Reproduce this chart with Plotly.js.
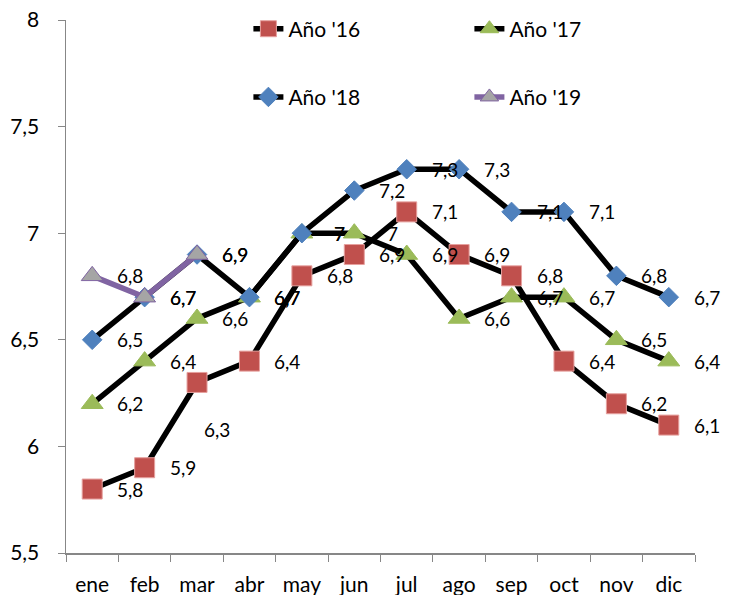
<!DOCTYPE html>
<html>
<head>
<meta charset="utf-8">
<script src="https://cdn.plot.ly/plotly-3.0.1.min.js"></script>
<style>html,body{margin:0;padding:0;background:#fff}#chart{width:736px;height:595px}</style>
</head>
<body>
<div id="chart"></div>
<script>
const months = ['ene','feb','mar','abr','may','jun','jul','ago','sep','oct','nov','dic'];
const y16 = [5.8, 5.9, 6.3, 6.4, 6.8, 6.9, 7.1, 6.9, 6.8, 6.4, 6.2, 6.1];
const y17 = [6.2, 6.4, 6.6, 6.7, 7.0, 7.0, 6.9, 6.6, 6.7, 6.7, 6.5, 6.4];
const y18 = [6.5, 6.7, 6.9, 6.7, 7.0, 7.2, 7.3, 7.3, 7.1, 7.1, 6.8, 6.7];
const y19 = [6.8, 6.7, 6.9];
const names = ["Año '16", "Año '17", "Año '18", "Año '19"];
const yTicks = [5.5, 6, 6.5, 7, 7.5, 8];

const FONT = 'Lato, "Open Sans", sans-serif';

const styles = [
  {line: '#000000', symbol: 'square', size: 20, fill: '#C0504D', edge: '#E6A09E', legend: 'legend'},
  {line: '#000000', symbol: 'triangle-up', size: 19, fill: '#9BBB59', edge: '#9BBB59', legend: 'legend'},
  {line: '#000000', symbol: 'diamond', size: 15, fill: '#4F81BD', edge: '#4F81BD', legend: 'legend2'},
  {line: '#8064A2', symbol: 'triangle-up', size: 19, fill: '#A5A5A5', edge: '#8064A2', legend: 'legend2'}
];
const series = [y16, y17, y18, y19];

const traces = series.map((ys, i) => ({
  type: 'scatter',
  mode: 'lines+markers',
  name: names[i],
  x: months.slice(0, ys.length),
  y: ys,
  legend: styles[i].legend,
  line: {color: styles[i].line, width: 5.5},
  marker: {symbol: styles[i].symbol, size: styles[i].size, color: styles[i].fill,
           line: {color: styles[i].edge, width: 1}},
  cliponaxis: false
}));

function fmt(v) { return String(v).replace('.', ','); }

const annotations = [];
series.forEach((ys, i) => {
  ys.forEach((v, j) => {
    let xs = 38, ysft = 0;
    if (i === 0 && j === 2) { xs = 20; ysft = -47; }
    annotations.push({
      x: months[j], y: v, xref: 'x', yref: 'y',
      text: fmt(v), showarrow: false, xshift: xs, yshift: ysft,
      font: {family: FONT, size: 19, color: '#000'}
    });
  });
});

const legendCommon = {
  orientation: 'h', xanchor: 'left', yanchor: 'middle',
  xref: 'paper', yref: 'paper', entrywidth: 176, entrywidthmode: 'pixels',
  font: {family: FONT, size: 21}, bgcolor: 'rgba(0,0,0,0)'
};

const layout = {
  width: 736, height: 595,
  margin: {l: 66, r: 41, t: 20, b: 42, autoexpand: false},
  paper_bgcolor: '#fff', plot_bgcolor: '#fff',
  font: {family: FONT, size: 21, color: '#000'},
  showlegend: true,
  legend: Object.assign({x: 0.29, y: 0.983}, legendCommon),
  legend2: Object.assign({x: 0.29, y: 0.855}, legendCommon),
  xaxis: {
    type: 'category', categoryorder: 'array', categoryarray: months,
    range: [-0.5, 11.5],
    showline: true, linecolor: '#878787', linewidth: 1.5,
    ticks: 'outside', tickson: 'boundaries', ticklen: 7, tickcolor: '#878787',
    showgrid: false, zeroline: false, ticklabelstandoff: 12,
    tickfont: {family: FONT, size: 21}
  },
  yaxis: {
    range: [5.5, 8], tickvals: yTicks, ticktext: yTicks.map(fmt),
    showline: true, linecolor: '#878787', linewidth: 1.5,
    ticks: 'outside', ticklen: 7, tickcolor: '#878787',
    showgrid: false, zeroline: false, ticklabelstandoff: 14,
    tickfont: {family: FONT, size: 21}
  },
  annotations: annotations
};

Plotly.newPlot('chart', traces, layout, {displayModeBar: false, staticPlot: true});
</script>
</body>
</html>
